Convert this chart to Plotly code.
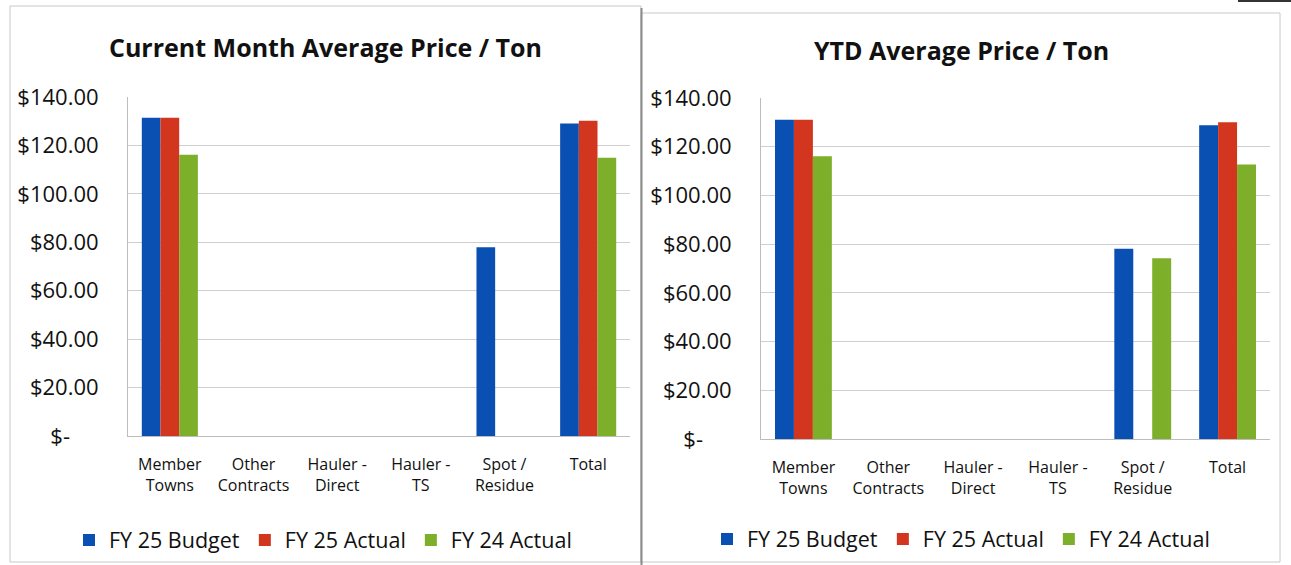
import plotly.graph_objects as go

W, H = 1291, 565

categories = ["Member<br>Towns", "Other<br>Contracts", "Hauler -<br>Direct", "Hauler -<br>TS", "Spot /<br>Residue", "Total"]
series_names = ["FY 25 Budget", "FY 25 Actual", "FY 24 Actual"]
colors = ["#0A50B2", "#D2361F", "#7DAF2A"]

# Current month values
cm_budget = [131.4, None, None, None, 78.0, 129.1]
cm_actual = [131.4, None, None, None, None, 130.2]
cm_prior = [116.1, None, None, None, None, 114.9]

# YTD values
ytd_budget = [131.1, None, None, None, 78.1, 128.8]
ytd_actual = [131.1, None, None, None, None, 130.0]
ytd_prior = [116.1, None, None, None, 74.2, 112.7]

tick_vals = [0, 20, 40, 60, 80, 100, 120, 140]
tick_text = ["$-\u00a0\u00a0\u00a0\u00a0\u00a0", "$20.00", "$40.00", "$60.00", "$80.00", "$100.00", "$120.00", "$140.00"]

titles = ["Current Month Average Price / Ton", "YTD Average Price / Ton"]

FONT = "Open Sans, Liberation Sans, sans-serif"


def px(x):
    return x / W


def py(y):
    return 1 - y / H


fig = go.Figure()

panels = [
    (cm_budget, cm_actual, cm_prior, "x", "y", "legend"),
    (ytd_budget, ytd_actual, ytd_prior, "x2", "y2", "legend2"),
]
for vals_b, vals_a, vals_p, xa, ya, lg in panels:
    for name, vals, col in zip(series_names, [vals_b, vals_a, vals_p], colors):
        fig.add_trace(go.Bar(
            x=categories, y=vals, name=name, marker=dict(color=col, line=dict(width=0)),
            xaxis=xa, yaxis=ya, legend=lg, showlegend=True,
        ))

axis_common_y = dict(
    range=[0, 140], tickmode="array", tickvals=tick_vals, ticktext=tick_text,
    showgrid=True, gridcolor="#CFCFCF", gridwidth=1,
    showline=True, linecolor="#BDBDBD", linewidth=1,
    zeroline=False, ticks="", ticklabelstandoff=24, automargin=False,
    tickfont=dict(family=FONT, size=22, color="#111111"),
    fixedrange=True,
)
axis_common_x = dict(
    showgrid=False, showline=True, linecolor="#BDBDBD", linewidth=1,
    ticks="", ticklabelstandoff=14, automargin=False,
    tickfont=dict(family=FONT, size=16, color="#111111"),
    fixedrange=True,
)

fig.update_layout(
    width=W, height=H,
    margin=dict(l=0, r=0, t=0, b=0, autoexpand=False),
    paper_bgcolor="white", plot_bgcolor="white",
    barmode="group", bargap=0.33, bargroupgap=0,
    showlegend=True,
    xaxis=dict(domain=[px(128), px(630)], anchor="y", **axis_common_x),
    yaxis=dict(domain=[py(436), py(97)], anchor="x", **axis_common_y),
    xaxis2=dict(domain=[px(761), px(1270)], anchor="y2", **axis_common_x),
    yaxis2=dict(domain=[py(439), py(98)], anchor="x2", **axis_common_y),
    legend=dict(orientation="h", x=px(323), xanchor="center", y=py(540), yanchor="middle",
                font=dict(family=FONT, size=21.5, color="#111111"), itemwidth=30,
                bgcolor="rgba(0,0,0,0)", traceorder="normal"),
    legend2=dict(orientation="h", x=px(961), xanchor="center", y=py(539), yanchor="middle",
                 font=dict(family=FONT, size=21.5, color="#111111"), itemwidth=30,
                 bgcolor="rgba(0,0,0,0)", traceorder="normal"),
    annotations=[
        dict(text="<b>" + titles[0] + "</b>", x=px(325), y=py(47), xref="paper", yref="paper",
             showarrow=False, xanchor="center", yanchor="middle",
             font=dict(family=FONT, size=25, color="#111111")),
        dict(text="<b>" + titles[1] + "</b>", x=px(961), y=py(50), xref="paper", yref="paper",
             showarrow=False, xanchor="center", yanchor="middle",
             font=dict(family=FONT, size=25, color="#111111")),
    ],
    shapes=[
        # left panel border
        dict(type="rect", xref="paper", yref="paper", x0=px(10), x1=px(641), y0=py(562), y1=py(6),
             line=dict(color="#C8C8C8", width=1), layer="below"),
        # right panel border
        dict(type="rect", xref="paper", yref="paper", x0=px(641), x1=px(1280), y0=py(562), y1=py(13),
             line=dict(color="#C8C8C8", width=1), layer="below"),
        # divider
        dict(type="line", xref="paper", yref="paper", x0=px(641.5), x1=px(641.5), y0=py(565), y1=py(8),
             line=dict(color="#8A8A8A", width=2)),
        # scan artifact top right
        dict(type="line", xref="paper", yref="paper", x0=px(1238), x1=px(1291), y0=py(1), y1=py(1),
             line=dict(color="#333333", width=2)),
    ],
)

fig.write_html("out.html")
